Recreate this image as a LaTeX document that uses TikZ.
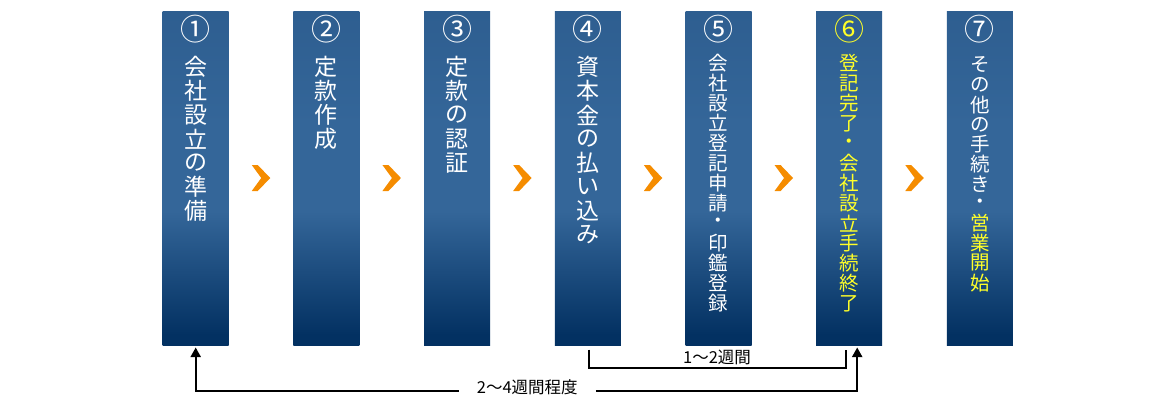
\documentclass[tikz,border=0pt]{standalone}
\usepackage{fontspec}
\setmainfont{Noto Sans CJK JP}
\usetikzlibrary{arrows.meta,calc}
\definecolor{btop}{RGB}{46,94,144}
\definecolor{bmid}{RGB}{52,102,153}
\definecolor{bdark}{RGB}{3,49,98}
\definecolor{chev}{RGB}{245,140,0}
\definecolor{jyel}{RGB}{255,255,40}
\pgfdeclareverticalshading{boxshade}{100bp}{color(0bp)=(bdark); color(26.5bp)=(bdark); color(45bp)=(bmid); color(58bp)=(bmid); color(75bp)=(btop); color(100bp)=(btop)}
\newcommand\vcol[7]{%
  \foreach \c [count=\i from #6] in {#7} {\node[#5] (#1-\i) at (#2, #3+#4*\i) {\c};}}
\begin{document}
\begin{tikzpicture}[x=1pt,y=-1pt,
  box/.style={minimum width=66pt, minimum height=334pt, inner sep=0pt, outer sep=0pt, shading=boxshade},
  num/.style={text=white, inner sep=0pt, font=\fontsize{30}{30}\selectfont},
  numy/.style={num, text=jyel},
  vt/.style={text=white, inner sep=0pt, font=\fontsize{23}{23}\selectfont},
  vts/.style={text=white, inner sep=0pt, font=\fontsize{19.5}{19.5}\selectfont},
  vtsy/.style={vts, text=jyel},
  lab/.style={text=black, inner ysep=0pt, font=\fontsize{16.5}{18}\selectfont},
  conn/.style={line width=2pt, draw=black},
  tip/.style={-{Triangle[width=10pt,length=9.5pt]}},
  chevron/.style={fill=chev, draw=none}
]
\useasboundingbox (0,0) rectangle (1170,400);
% boxes
\foreach \k in {1,...,7} {
  \node[box] (b\k) at ({195.7+130.7*(\k-1)},178) {};
}
% circled numbers
\node[num] (n1) at (b1.center |- 0,29) {①};
\node[num] (n2) at (b2.center |- 0,29) {②};
\node[num] (n3) at (b3.center |- 0,29) {③};
\node[num] (n4) at (b4.center |- 0,29) {④};
\node[num] (n5) at (b5.center |- 0,29) {⑤};
\node[numy] (n6) at (b6.center |- 0,29) {⑥};
\node[num] (n7) at (b7.center |- 0,29) {⑦};
% vertical texts
\vcol{t1}{195.7}{67}{24}{vt}{0}{会,社,設,立,の,準,備}
\vcol{t2}{326.4}{67}{24}{vt}{0}{定,款,作,成}
\vcol{t3}{457.1}{67}{24}{vt}{0}{定,款,の,認,証}
\vcol{t4}{587.8}{67}{24}{vt}{0}{資,本,金,の,払,い,込,み}
\vcol{t5}{718.5}{63}{20}{vts}{0}{会,社,設,立,登,記,申,請,・,印,鑑,登,録}
\vcol{t6}{849.2}{63.3}{20}{vtsy}{0}{登,記,完,了,・,会,社,設,立,手,続,終,了}
\vcol{t7}{979.9}{65}{19.8}{vts}{0}{そ,の,他,の,手,続,き,・}
\vcol{t7}{979.9}{65}{19.8}{vtsy}{8}{営,業,開,始}
% chevrons
\foreach \a/\b in {1/2,2/3,3/4,4/5,5/6,6/7} {
  \coordinate (c\a) at ($(b\a.east)!0.5!(b\b.west)$);
  \fill[chevron] (c\a) ++(-9.3,-13) -- ++(6,0) -- ++(12.5,13) -- ++(-12.5,13) -- ++(-6,0) -- ++(9.5,-13) -- cycle;
}
% 1~2 weeks bracket
\coordinate (p1) at ($(b4.south)+(1.5,4.5)$);
\coordinate (p2) at ($(b6.south)+(-3,4.5)$);
\draw[conn] (p1) -- ++(0,18) -| (p2);
\node[lab] (l12) at ($(b5.south)+(-1.5,12)$) {1～2週間};
% 2~4 weeks arrows
\node[lab, inner xsep=18pt] (l24) at (527.3,387) {2～4週間程度};
\coordinate (a1) at ($(b1.south)+(0,2.5)$);
\coordinate (a2) at ($(b6.south)+(8,2.5)$);
\draw[conn,tip] ($(l24.west)+(0,4)$) -| (a1);
\draw[conn,tip] ($(l24.east)+(0,4)$) -| (a2);
\end{tikzpicture}
\end{document}
